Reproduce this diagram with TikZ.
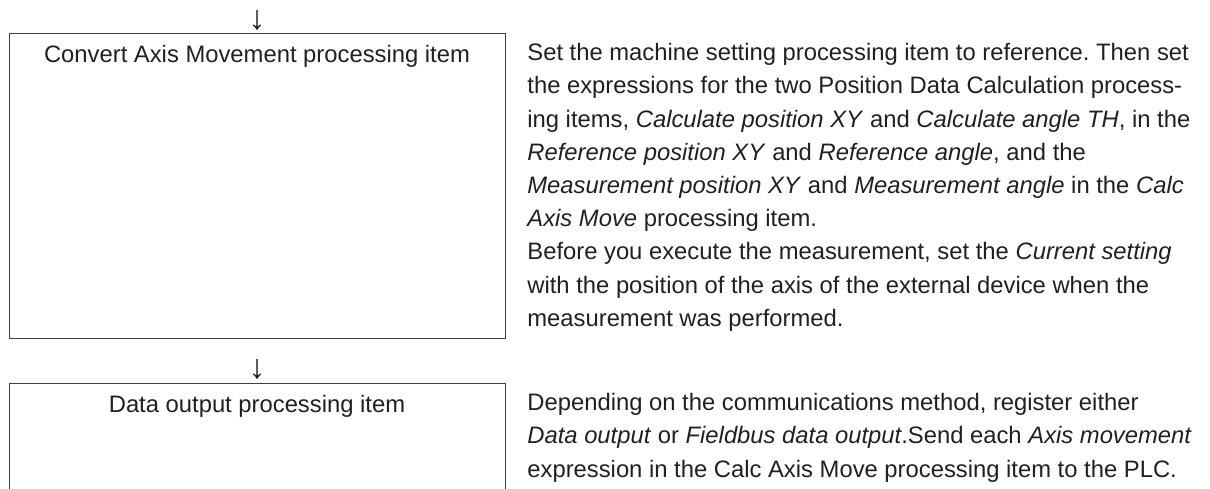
\documentclass[tikz,border=0pt]{standalone}
\usepackage{fontspec}
\setmainfont{Liberation Sans}
\frenchspacing
\definecolor{inkgrey}{RGB}{35,31,32}
\definecolor{framegrey}{RGB}{64,64,64}
\usetikzlibrary{positioning}

\tikzset{
  itembox/.style={draw=framegrey,line width=0.65pt,minimum width=248pt,inner sep=0pt,anchor=north west},
  itemtext/.style={text=inkgrey,font=\fontsize{11.9}{16.6}\selectfont,inner sep=0pt},
  itemnote/.style={itemtext,align=left,anchor=north west},
  flowarrow/.style={itemtext,font=\fontsize{17}{17}\selectfont},
}

\begin{document}
\begin{tikzpicture}[x=0.5pt,y=-0.5pt]
  \clip (0,0) rectangle (1210,488);
  % arrows
  \node[flowarrow] (toparrow) at (257,20) {↓};
  \node[flowarrow] (midarrow) at (257,369) {↓};
  % boxes
  \node[itembox,minimum height=152.5pt] (convbox) at (9,33) {};
  \node[itembox,minimum height=80pt] (outbox) at (9,383) {};
  \node[itemtext,anchor=base] (convtitle) at (257,62) {Convert Axis Movement processing item};
  \node[itemtext,anchor=base] (outtitle) at (257,412) {Data output processing item};
  % notes
  \node[itemnote] (convnote) at (527,43) {
    Set the machine setting processing item to reference. Then set\\
    the expressions for the two Position Data Calculation process-\\
    ing items, \textit{Calculate position XY} and \textit{Calculate angle TH}, in the\\
    \textit{Reference position XY} and \textit{Reference angle}, and the\\
    \textit{Measurement position XY} and \textit{Measurement angle} in the \textit{Calc}\\
    \textit{Axis Move} processing item.\\
    Before you execute the measurement, set the \textit{Current setting}\\
    with the position of the axis of the external device when the\\
    measurement was performed.
  };
  \node[itemnote] (outnote) at (527,393) {
    Depending on the communications method, register either\\
    \textit{Data output} or \textit{Fieldbus data output}.Send each \textit{Axis movement}\\
    expression in the Calc Axis Move processing item to the PLC.
  };
\end{tikzpicture}
\end{document}
